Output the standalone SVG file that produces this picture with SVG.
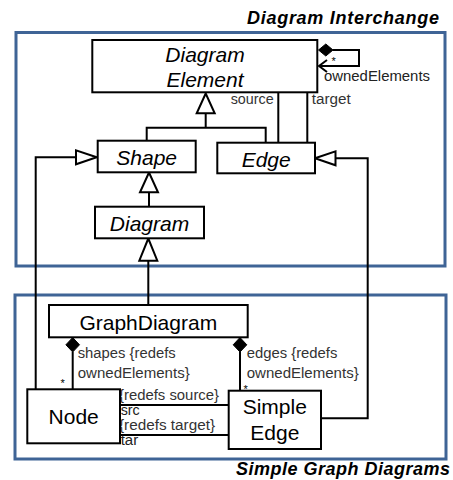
<svg xmlns="http://www.w3.org/2000/svg" width="453" height="480" viewBox="0 0 453 480">
  <style>
    .pkg { fill: none; stroke: #3f6496; stroke-width: 3; }
    .box { fill: #fff; stroke: #000; stroke-width: 2; }
    .line { fill: none; stroke: #000; stroke-width: 2; }
    .tri { fill: #fff; stroke: #000; stroke-width: 2; stroke-linejoin: miter; }
    .dia { fill: #000; stroke: #000; stroke-width: 1; }
    .title { font-family: "Liberation Sans", Arial, sans-serif; font-size: 18px; font-weight: bold; font-style: italic; fill: #000; }
    .cls { font-family: "Liberation Sans", Arial, sans-serif; font-size: 21px; fill: #000; text-anchor: middle; }
    .abs { font-style: italic; }
    .lbl { font-family: "Liberation Sans", Arial, sans-serif; font-size: 14px; fill: #333; }
    .star { font-family: "Liberation Sans", Arial, sans-serif; font-size: 11px; fill: #000; }
  </style>

  <!-- package frames -->
  <g id="pkg-di">
    <rect class="pkg" x="16" y="32.5" width="429" height="233.5"/>
    <text class="title" x="247" y="24" textLength="192" lengthAdjust="spacing">Diagram Interchange</text>
  </g>
  <g id="pkg-sgd">
    <rect class="pkg" x="15" y="295" width="431" height="164"/>
    <text class="title" x="236" y="475" textLength="214" lengthAdjust="spacing">Simple Graph Diagrams</text>
  </g>

  <!-- connectors -->
  <g id="connectors">
    <!-- Shape, Edge generalize DiagramElement -->
    <path class="line" d="M146.7,141 V127.7 H265.7 V143 M205.7,127.7 V113"/>
    <polygon class="tri" points="205.7,93.5 196.7,113.3 214.7,113.3"/>
    <!-- Edge source / target -->
    <path class="line" d="M278.3,92.5 V143 M307.3,92.5 V143"/>
    <text class="lbl" x="230.7" y="104" textLength="43" lengthAdjust="spacingAndGlyphs">source</text>
    <text class="lbl" x="311.7" y="104" textLength="39" lengthAdjust="spacingAndGlyphs">target</text>
    <!-- ownedElements self-composition -->
    <path class="line" d="M333,50 H359 V66 H319"/>
    <polygon class="dia" points="318.5,50 325.8,44 333,50 325.8,56"/>
    <path class="line" d="M327,60 L319,66 L327,72"/>
    <text class="star" x="331.5" y="65">*</text>
    <text class="lbl" x="324" y="81" textLength="106" lengthAdjust="spacingAndGlyphs" style="fill:#222">ownedElements</text>
    <!-- Diagram generalizes Shape -->
    <path class="line" d="M149,192 V207"/>
    <polygon class="tri" points="149,172.5 140,192.3 158,192.3"/>
    <!-- GraphDiagram generalizes Diagram -->
    <path class="line" d="M148.3,260.5 V305"/>
    <polygon class="tri" points="148.3,238.5 139.3,260.7 157.3,260.7"/>
    <!-- Node generalizes Shape -->
    <path class="line" d="M35.7,389.5 V157.3 H76"/>
    <polygon class="tri" points="96.7,157.3 76,150.3 76,164.3"/>
    <!-- SimpleEdge generalizes Edge -->
    <path class="line" d="M321,418.3 H367.7 V158.3 H335"/>
    <polygon class="tri" points="315,158.3 335.5,151.3 335.5,165.3"/>
    <!-- GraphDiagram shapes -->
    <path class="line" d="M72.7,352 V389.5"/>
    <polygon class="dia" points="72.7,337.5 79.5,344.8 72.7,352 65.9,344.8"/>
    <text class="lbl" x="77.7" y="358" textLength="98" lengthAdjust="spacingAndGlyphs">shapes {redefs</text>
    <text class="lbl" x="77.7" y="377.5" textLength="112" lengthAdjust="spacingAndGlyphs">ownedElements}</text>
    <text class="star" x="60.5" y="387">*</text>
    <!-- GraphDiagram edges -->
    <path class="line" d="M240,352 V391"/>
    <polygon class="dia" points="240,337.5 246.8,344.8 240,352 233.2,344.8"/>
    <text class="lbl" x="246.7" y="358" textLength="90.7" lengthAdjust="spacingAndGlyphs">edges {redefs</text>
    <text class="lbl" x="246.7" y="377.5" textLength="112" lengthAdjust="spacingAndGlyphs">ownedElements}</text>
    <text class="star" x="243.5" y="392.5">*</text>
    <!-- SimpleEdge src / tar -->
    <path class="line" d="M120,405 H228.7 M120,435 H228.7"/>
    <text class="lbl" x="119" y="400" textLength="100" lengthAdjust="spacingAndGlyphs">{redefs source}</text>
    <text class="lbl" x="120.7" y="414.5" textLength="19" lengthAdjust="spacingAndGlyphs" style="fill:#222">src</text>
    <text class="lbl" x="119" y="430" textLength="96" lengthAdjust="spacingAndGlyphs">{redefs target}</text>
    <text class="lbl" x="120.7" y="445" textLength="17.5" lengthAdjust="spacingAndGlyphs" style="fill:#222">tar</text>
  </g>

  <!-- classes -->
  <g id="DiagramElement">
    <rect class="box" x="92.3" y="40" width="225" height="52.3"/>
    <text class="cls abs" x="205" y="62" font-size="22">Diagram</text>
    <text class="cls abs" x="205" y="87" font-size="22">Element</text>
  </g>
  <g id="Shape">
    <rect class="box" x="97.7" y="140.7" width="98" height="31.6"/>
    <text class="cls abs" x="146.7" y="165">Shape</text>
  </g>
  <g id="Edge">
    <rect class="box" x="217.3" y="142.7" width="97.7" height="30.6"/>
    <text class="cls abs" x="266.2" y="166.5">Edge</text>
  </g>
  <g id="Diagram">
    <rect class="box" x="95" y="206.7" width="109" height="31.6"/>
    <text class="cls abs" x="149.5" y="230.5">Diagram</text>
  </g>
  <g id="GraphDiagram">
    <rect class="box" x="49" y="305" width="198.7" height="32.3"/>
    <text class="cls" x="148.3" y="330" font-size="20">GraphDiagram</text>
  </g>
  <g id="Node">
    <rect class="box" x="27.3" y="389.3" width="92.7" height="54"/>
    <text class="cls" x="73.7" y="424" font-size="22">Node</text>
  </g>
  <g id="SimpleEdge">
    <rect class="box" x="228.7" y="390.7" width="92.3" height="58.3"/>
    <text class="cls" x="274.8" y="414" font-size="22">Simple</text>
    <text class="cls" x="274.8" y="440" font-size="22">Edge</text>
  </g>
</svg>
